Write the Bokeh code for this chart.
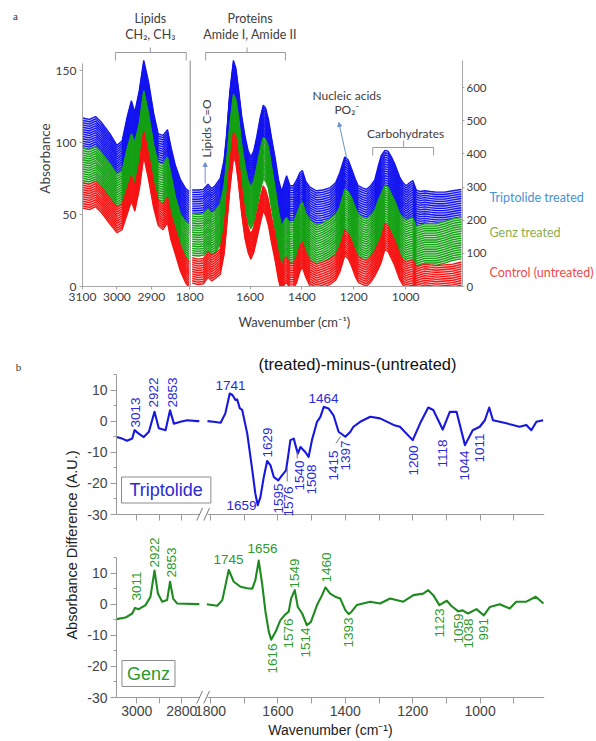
import numpy as np
from bokeh.plotting import figure
from bokeh.models import Range1d, LinearAxis, FixedTicker, Label, Arrow, NormalHead
from bokeh.layouts import column, row
from bokeh.embed import file_html
from bokeh.resources import INLINE

# ======================= DATA: panel a (stacked FTIR spectra) =======================
A_LEFT_WN = [3100, 3080, 3062, 3045, 3020, 3000, 2985, 2970, 2958, 2948, 2935, 2922,
             2908, 2893, 2880, 2866, 2853, 2843, 2830, 2815, 2800, 2790]
A_TRIPTOLIDE_LEFT = [117, 116, 118, 114, 106, 98, 101, 118, 129, 121, 136, 157,
                     142, 120, 106, 105, 109, 97, 84, 74, 68, 66]
A_GENZ_LEFT = [96, 95, 97, 93, 85, 78, 80, 96, 106, 100, 113, 136,
               120, 98, 86, 85, 90, 78, 62, 50, 45, 43]
A_CONTROL_LEFT = [72, 71, 73, 69, 61, 55, 57, 68, 77, 70, 85, 108,
                  92, 72, 60, 57, 62, 50, 40, 28, 20, 17]

A_RIGHT_WN = [1823, 1800, 1780, 1762, 1748, 1735, 1715, 1700, 1690, 1678, 1664, 1655, 1645,
              1632, 1619, 1607, 1597, 1586, 1574, 1560, 1549, 1540, 1529, 1516, 1504, 1490,
              1478, 1468, 1459, 1446, 1433, 1420, 1408, 1398, 1385, 1369, 1344, 1320, 1292,
              1270, 1254, 1235, 1222, 1209, 1195, 1183, 1167, 1151, 1135, 1119, 1105, 1094,
              1080, 1068, 1055, 1042, 1023, 1010, 998, 985, 972, 959, 945, 927, 905, 882,
              850, 818, 785]
A_TRIPTOLIDE_RIGHT = [67, 67, 67.5, 71, 68, 70, 75, 88, 106, 135, 157, 152, 138,
                      118, 104, 94, 90, 94, 104, 118, 126, 124, 116, 102, 90, 74,
                      66, 72, 77, 70, 70, 74, 79, 80.5, 73, 69, 66.5, 67, 68.5,
                      72, 79, 90, 88, 82, 75, 70, 68.5, 67.5, 70, 74, 84, 91,
                      94.5, 94, 90, 85, 76, 72, 70, 72, 73.5, 67, 66, 66.5, 66, 65.5,
                      65.5, 66.5, 67.5]
A_GENZ_RIGHT = [50.5, 50, 50.5, 54, 51, 52.5, 57.5, 70, 87.5, 112, 133.5, 130, 118.5,
                98, 83, 73, 69, 73, 83, 96, 103.5, 102, 97, 82, 69, 52,
                41.5, 46, 48, 44, 44.5, 50, 56, 58.5, 51, 46, 42.5, 44, 47,
                50, 55, 67.5, 66, 62, 55, 50.5, 48, 47, 49, 53, 60, 64.5,
                70, 69, 64, 59.5, 50.5, 47.5, 46, 47, 47.5, 41.5, 42.5, 43.5, 43.5, 43.5,
                45, 47, 48]
A_CONTROL_RIGHT = [20, 19, 19.5, 24, 21.5, 23, 26, 40, 60, 85, 107, 104, 90,
                   68, 50.5, 41, 36.5, 41, 50.5, 62, 70, 67, 60, 47, 36.5, 22,
                   13.5, 19, 20.5, 16, 16, 20.5, 28, 31, 24, 18, 15.5, 17, 19,
                   22, 27.5, 39, 37, 32, 25, 20.5, 19, 18, 20.5, 25, 30, 34.5,
                   43.5, 42, 37, 32, 22.5, 18.5, 17, 18, 18.5, 13.5, 14.5, 15.5, 15, 14.5,
                   15, 15.5, 17]
# offsets of the individual spectra stacked below each group's top spectrum
A_STACK_OFFSETS = [0.0, 1.6, 3.2, 4.8, 6.4, 8.0, 9.6, 11.2, 12.8, 14.4, 16.0, 17.6,
                   19.2, 20.8, 22.4, 24.0, 25.6, 27.2, 28.8]
A_CONTROL_STACK_OFFSETS = [0.0, 1.6, 3.2, 4.8, 6.4, 8.0, 9.6, 11.2, 12.8, 14.4, 16.0, 17.6]
A_X_TICKS_LEFT = [3100, 3000, 2900]
A_X_TICKS_RIGHT = [1600, 1400, 1200, 1000]
A_BREAK_TICK = "1800"
A_Y_TICKS = [0, 50, 100, 150]
A_Y2_TICKS = [0, 100, 200, 300, 400, 500, 600]
A_GROUPS = ["Triptolide treated", "Genz treated", "Control (untreated)"]

# ======================= DATA: panel b (difference spectra) =======================
B_TRIP_LEFT_WN = [3090, 3065, 3043, 3020, 3010, 2991, 2969, 2946, 2921, 2902, 2872, 2852,
                  2835, 2806, 2776, 2731, 2722]
B_TRIP_LEFT = [-5.1, -5.6, -6.3, -5.6, -2.9, -4.0, -5.1, -3.4, 3.0, -2.3, -2.9, 3.5,
               -0.8, -0.2, 0.3, 0.0, 0.0]
B_TRIP_RIGHT_WN = [1809, 1791, 1770, 1756, 1743, 1735, 1726, 1721, 1713, 1706, 1691, 1676,
                   1667, 1660, 1652, 1642, 1632, 1622, 1612, 1599, 1588, 1576, 1570, 1563,
                   1553, 1548, 1541, 1533, 1519, 1509, 1499, 1484, 1474, 1464, 1450, 1435,
                   1420, 1400, 1385, 1376, 1356, 1326, 1297, 1257, 1238, 1200, 1178, 1154,
                   1139, 1111, 1090, 1070, 1045, 1022, 1001, 986, 973, 962, 922, 883, 863,
                   848, 833, 813]
B_TRIP_RIGHT = [0.0, -0.2, -0.5, 2.5, 8.9, 8.4, 6.8, 7.0, 4.1, 3.6, -4.0, -15.8,
                -23.3, -27.0, -24.4, -18.0, -12.8, -14.2, -18.0, -19.0, -17.4, -15.8, -11.5, -6.1,
                -5.6, -7.7, -10.4, -8.3, -9.9, -11.5, -6.1, -0.2, 1.4, 4.6, 4.1, 1.9,
                -3.4, -5.0, -3.4, -1.8, -0.2, 1.4, 0.9, -1.2, -1.8, -6.1, -0.7, 4.4,
                3.6, -2.7, 3.0, 3.0, -7.7, -2.9, -1.8, 0.3, 4.4, 0.3, -0.7, -1.8, -1.2,
                -2.9, -0.2, 0.3]
B_GENZ_LEFT_WN = [3090, 3050, 3020, 3008, 2991, 2961, 2939, 2921, 2906, 2887, 2865, 2852,
                  2838, 2820, 2731, 2722]
B_GENZ_LEFT = [-4.8, -4.3, -3.0, -1.2, -1.6, -0.3, 2.4, 10.8, 3.4, 0.8, 1.3, 7.2,
               1.8, 0.2, 0.0, 0.0]
B_GENZ_RIGHT_WN = [1811, 1780, 1765, 1746, 1731, 1711, 1691, 1676, 1667, 1657, 1647, 1637,
                   1627, 1620, 1607, 1593, 1580, 1568, 1561, 1550, 1541, 1528, 1514, 1502,
                   1484, 1469, 1459, 1445, 1430, 1415, 1400, 1390, 1382, 1366, 1326, 1297,
                   1267, 1228, 1198, 1169, 1154, 1139, 1121, 1099, 1085, 1065, 1052, 1036,
                   1011, 989, 971, 942, 912, 893, 863, 835, 812]
B_GENZ_RIGHT = [0.0, -0.5, 1.3, 11.0, 7.2, 5.6, 5.1, 5.0, 7.7, 14.0, 6.7, -2.4,
                -8.9, -11.4, -8.9, -5.2, -3.5, -2.4, 1.8, 4.5, -0.9, -3.0, -6.8, -5.7,
                -0.3, 2.9, 5.4, 3.4, 2.4, 1.8, -1.9, -3.2, -2.5, -0.3, 0.8, 0.2,
                1.8, 0.8, 2.9, 3.4, 4.5, 2.9, -0.3, 1.1, -0.6, -2.3, -2.0, -3.0,
                -1.6, -3.6, -0.9, 0.0, -1.4, 0.8, 0.8, 2.4, 0.2]
B_TRIP_PEAKS = ["3013", "2922", "2853", "1741", "1629", "1659", "1595", "1576", "1540",
                "1508", "1464", "1415", "1397", "1200", "1118", "1044", "1011"]
B_GENZ_PEAKS = ["3011", "2922", "2853", "1745", "1656", "1616", "1576", "1549", "1514",
                "1460", "1393", "1123", "1059", "1038", "991"]
B_X_TICKS_LEFT = [3000, 2900, 2800]
B_X_TICKS_RIGHT = [1800, 1700, 1600, 1500, 1400, 1300, 1200, 1100, 1000, 900]
B_X_LABELLED = [3000, 2800, 1800, 1600, 1400, 1200, 1000]
B_Y_TICKS = [-30, -20, -10, 0, 10]
B_Y_MINOR = [-25, -15, -5, 5, 15]

# ======================= layout (page pixel geometry) =======================
# label placement in page pixels: (centre x, y, orientation) ; 'v' -> y is the text start (bottom)
TRIP_LABEL_POS = [(135, 427, "v"), (153, 407, "v"), (172, 407, "v"), (230, 385, "h"),
                  (266.7, 457, "v"), (241, 505, "h"), (278, 513, "v"), (288, 516, "v"),
                  (299, 490, "v"), (311, 494, "v"), (323, 398, "h"), (333, 480, "v"),
                  (345, 470, "v"), (413, 475, "v"), (442, 467, "v"), (464, 480, "v"),
                  (479, 462, "v")]
GENZ_LABEL_POS = [(136, 600, "v"), (154, 567, "v"), (171, 577, "v"), (228, 559, "h"),
                  (262, 548, "h"), (272, 673, "v"), (288, 648, "v"), (294, 588, "v"),
                  (305, 657, "v"), (326, 582, "v"), (348, 647, "v"), (439, 637, "v"),
                  (458, 643, "v"), (468, 648, "v"), (483, 640, "v")]


class Frame:
    def __init__(self, x0, w, y0, h, xr, lr, yr):
        self.x0, self.w, self.y0, self.h = x0, w, y0, h
        self.xr, self.lr, self.yr = xr, lr, yr

    def px(self, p):
        return self.xr[0] + (p - self.x0) / self.w * (self.xr[1] - self.xr[0])

    def pl(self, p):
        return self.lr[0] + (p - self.x0) / self.w * (self.lr[1] - self.lr[0])

    def py(self, p):
        return self.yr[1] - (p - self.y0) / self.h * (self.yr[1] - self.yr[0])

    def l2d(self, v):
        f = (v - self.lr[0]) / (self.lr[1] - self.lr[0])
        return round(self.xr[0] + f * (self.xr[1] - self.xr[0]), 4)


def make_fig(width, height, fr, left, right, top, bottom):
    p = figure(width=width, height=height, x_range=Range1d(*fr.xr), y_range=Range1d(*fr.yr),
               x_axis_type=None, y_axis_type=None, toolbar_location=None,
               output_backend="svg", min_border_left=left, min_border_right=right,
               min_border_top=top, min_border_bottom=bottom)
    p.extra_x_ranges = {"L": Range1d(*fr.lr)}
    p.outline_line_color = None
    return p


def page_fig(x0, x1, y0, y1, top=0, bottom=0):
    """blank figure whose frame coordinates are page pixels (for free text)"""
    p = figure(width=x1 - x0, height=y1 - y0 + top + bottom, x_range=Range1d(x0, x1),
               y_range=Range1d(y1, y0), x_axis_type=None, y_axis_type=None,
               toolbar_location=None, output_backend="svg", min_border_left=0,
               min_border_right=0, min_border_top=top, min_border_bottom=bottom)
    p.outline_line_color = None
    return p


def text(p, s, x, y, rng=None, size="12px", font="Lato", color="#404040", angle=0.0,
         align="center", baseline="middle", **kw):
    args = dict(x=x, y=y, text=s, text_font=font, text_font_size=size, text_color=color,
                angle=angle, text_align=align, text_baseline=baseline, **kw)
    if rng:
        args["x_range_name"] = rng
    p.add_layout(Label(**args))


# ----------------------------------- panel a -----------------------------------
FA = Frame(82, 381, 0, 286, (2246.0, 780.8), (3100.0, 1995.65), (0.0, 286 / 1.44))
pa = make_fig(437, 312, FA, 30, 26, 0, 26)          # page x 52 .. 489
pa.extra_y_ranges = {"R": Range1d(0, 286 / 1.44 * 4.342)}


def band(p, wn, top, offsets, color, tint, rng=None):
    top = np.asarray(top, dtype=float)
    kw = {"x_range_name": rng} if rng else {}
    p.varea(x=wn, y1=top - max(offsets), y2=top, fill_color=tint, fill_alpha=1.0, **kw)
    p.multi_line(xs=[list(wn)] * len(offsets), ys=[list(top - o) for o in offsets],
                 line_color=color, line_width=1.35, **kw)


BLUE, GREEN, RED = "#1414f0", "#14a014", "#f51414"
TBLUE, TGREEN, TRED = "#c0c0fa", "#bce5bc", "#fbc0c0"
for wn, tops, rng in [(A_LEFT_WN, (A_TRIPTOLIDE_LEFT, A_GENZ_LEFT, A_CONTROL_LEFT), "L"),
                      (A_RIGHT_WN, (A_TRIPTOLIDE_RIGHT, A_GENZ_RIGHT, A_CONTROL_RIGHT), None)]:
    assert len(wn) == len(tops[0]) == len(tops[1]) == len(tops[2])
    band(pa, wn, tops[0], A_STACK_OFFSETS, BLUE, TBLUE, rng)
    band(pa, wn, tops[1], A_STACK_OFFSETS, GREEN, TGREEN, rng)
    band(pa, wn, tops[2], A_CONTROL_STACK_OFFSETS, RED, TRED, rng)

AX = "#a6a6a6"
TXT = "#404040"
ax_l = LinearAxis(ticker=FixedTicker(ticks=A_Y_TICKS), bounds=(0, 155))
ax_r = LinearAxis(y_range_name="R", ticker=FixedTicker(ticks=A_Y2_TICKS), bounds=(0, 680))
junction = FA.l2d(FA.pl(189.5))
bt = [FA.l2d(v) for v in A_X_TICKS_LEFT] + [junction] + list(A_X_TICKS_RIGHT)
bl = {FA.l2d(v): str(v) for v in A_X_TICKS_LEFT}
bl[junction] = A_BREAK_TICK
ax_b = LinearAxis(ticker=FixedTicker(ticks=bt), major_label_overrides=bl)
for ax in (ax_l, ax_r, ax_b):
    ax.axis_line_color = AX
    ax.major_tick_line_color = AX
    ax.major_tick_out = 3
    ax.major_tick_in = 0
    ax.minor_tick_line_color = None
    ax.major_label_text_font = "Lato"
    ax.major_label_text_font_size = "12px"
    ax.major_label_text_color = TXT
    ax.major_label_standoff = 3
ax_r.major_tick_out = 2
ax_r.major_label_standoff = 2
ax_r.major_label_text_font_size = "11.5px"
pa.add_layout(ax_l, "left")
pa.add_layout(ax_r, "right")
pa.add_layout(ax_b, "below")

# divider between the two wavenumber windows
pa.line(x=[FA.pl(190), FA.pl(190)], y=[0, FA.py(60)], x_range_name="L", line_color="#9a9a9a",
        line_width=1.2)


def bracket(p, fr, xa, xb, xm, ytop, yend, ytick, rng=None):
    f = fr.pl if rng else fr.px
    kw = {"x_range_name": rng} if rng else {}
    p.multi_line(xs=[[f(xa), f(xa), f(xb), f(xb)], [f(xm), f(xm)]],
                 ys=[[fr.py(yend), fr.py(ytop), fr.py(ytop), fr.py(yend)],
                     [fr.py(ytop), fr.py(ytick)]], line_color="#9a9a9a", line_width=1, **kw)


bracket(pa, FA, 115, 186, 150, 52, 60, 47, "L")
bracket(pa, FA, 205.5, 285.5, 247, 52, 60, 47)
bracket(pa, FA, 373, 434, 404, 147, 155, 140)

text(pa, "Lipids", FA.pl(150), FA.py(18), "L", size="12.5px")
text(pa, "CH\u2082, CH\u2083", FA.pl(150), FA.py(34), "L", size="12.5px")
text(pa, "Proteins", FA.px(250), FA.py(18), size="12.5px")
text(pa, "Amide I, Amide II", FA.px(250), FA.py(34), size="12.5px")
text(pa, "Lipids C=O", FA.px(206), FA.py(157), size="12px", angle=np.pi / 2, align="left")
text(pa, "Nucleic acids", FA.px(347), FA.py(95), size="12px")
text(pa, "PO\u2082\u207b", FA.px(347), FA.py(109), size="12px")
text(pa, "Carbohydrates", FA.px(406), FA.py(133), size="12px")

ARROWC = "#6f93c8"
pa.add_layout(Arrow(x_start=FA.px(205), y_start=FA.py(183), x_end=FA.px(205), y_end=FA.py(162),
                    line_color=ARROWC, line_width=1,
                    end=NormalHead(size=4, fill_color=ARROWC, line_color=ARROWC)))
pa.add_layout(Arrow(x_start=FA.px(347), y_start=FA.py(158), x_end=FA.px(339), y_end=FA.py(122),
                    line_color=ARROWC, line_width=1,
                    end=NormalHead(size=4, fill_color=ARROWC, line_color=ARROWC)))

aL = page_fig(0, 52, 0, 286, 0, 26)
text(aL, "a", 15, 15, size="11px", font="Liberation Serif", color="#333333")
text(aL, "Absorbance", 44, 158, size="13.5px", angle=np.pi / 2)
aR = page_fig(489, 596, 0, 286, 0, 26)
for s, yy, col in zip(A_GROUPS, (197, 232, 272), ("#4a90d6", "#8aac4e", "#f04a4a")):
    text(aR, s, 489, yy, size="12.5px", color=col, align="left")

mid = page_fig(0, 596, 312, 374)
text(mid, "Wavenumber (cm\u207b\u00b9)", 294, 321, size="13px")
text(mid, "b", 18, 366, size="11px", font="Liberation Serif", color="#333333")
text(mid, "(treated)-minus-(untreated)", 357, 363, size="16.5px", font="Liberation Sans",
     color="#111111")

# ----------------------------------- panel b -----------------------------------
K = 140 / 45.0
FB1 = Frame(116, 428, 374, 146, (2079.0, 809.0), (3090.0, 1187.8),
            (-30.0 - 6 / K, 15.0))
FB2 = Frame(116, 428, 527, 176, (2079.0, 809.0), (3090.0, 1187.8),
            (-30.0 - 6 / K, -30.0 - 6 / K + 176 / K))
pb1 = make_fig(516, 153, FB1, 36, 52, 0, 7)
pb2 = make_fig(516, 214, FB2, 36, 52, 0, 38)

BAX = "#9a9a9a"
BTXT = "#444444"
BFONT = "Liberation Sans"


def b_axes(p, fr, labelled):
    ay = LinearAxis(ticker=FixedTicker(ticks=B_Y_TICKS, minor_ticks=B_Y_MINOR), bounds=(-30, 15),
                    major_label_overrides={v: str(v) for v in B_Y_TICKS})
    ay.major_tick_out = 6
    ay.major_tick_in = 0
    ay.minor_tick_out = 3
    ay.minor_tick_in = 0
    ay.minor_tick_line_color = BAX
    ay.axis_line_color = BAX
    ticks = [fr.l2d(v) for v in B_X_TICKS_LEFT] + list(B_X_TICKS_RIGHT)
    raw = list(B_X_TICKS_LEFT) + list(B_X_TICKS_RIGHT)
    over = {t: (str(r) if (labelled and r in B_X_LABELLED) else "") for t, r in zip(ticks, raw)}
    ax = LinearAxis(ticker=FixedTicker(ticks=ticks), major_label_overrides=over)
    ax.major_tick_out = 0
    ax.major_tick_in = 6
    ax.minor_tick_line_color = None
    ax.axis_line_color = None
    for a in (ay, ax):
        a.major_tick_line_color = BAX
        a.major_label_text_font = BFONT
        a.major_label_text_color = BTXT
        a.major_label_text_font_size = "14px"
        a.major_label_standoff = 3
    if labelled:
        ax.major_label_standoff = 2
        ax.axis_label = "Wavenumber (cm\u207b\u00b9)"
        ax.axis_label_text_font = BFONT
        ax.axis_label_text_font_size = "14px"
        ax.axis_label_text_font_style = "normal"
        ax.axis_label_text_color = "#222222"
        ax.axis_label_standoff = 3
    else:
        ax.major_label_text_font_size = "1px"
        ax.major_label_standoff = 0
    p.add_layout(ay, "left")
    p.add_layout(ax, "below")
    # the broken x axis line with its break marks
    p.line(x=[fr.lr[0], fr.pl(199.5)], y=[-30, -30], x_range_name="L", line_color=BAX,
           line_width=1)
    p.line(x=[fr.px(207), fr.xr[1]], y=[-30, -30], line_color=BAX, line_width=1)
    ybot, ytop = -30 - 6.5 / K, -30 + 6.5 / K
    p.multi_line(xs=[[fr.px(196), fr.px(202)], [fr.px(203), fr.px(209)]],
                 ys=[[ybot, ytop], [ybot, ytop]], line_color="#7a7a7a", line_width=1)


b_axes(pb1, FB1, False)
b_axes(pb2, FB2, True)

TRIPC, TRIPT = "#1717dd", "#2a2ad8"
GENZC, GENZT = "#1f8a1f", "#2c9a2c"
pb1.line(B_TRIP_LEFT_WN, B_TRIP_LEFT, x_range_name="L", line_color=TRIPC, line_width=2.1,
         line_join="round")
pb1.line(B_TRIP_RIGHT_WN, B_TRIP_RIGHT, line_color=TRIPC, line_width=2.1, line_join="round")
pb2.line(B_GENZ_LEFT_WN, B_GENZ_LEFT, x_range_name="L", line_color=GENZC, line_width=2.1,
         line_join="round")
pb2.line(B_GENZ_RIGHT_WN, B_GENZ_RIGHT, line_color=GENZC, line_width=2.1, line_join="round")


def peak_labels(p, fr, names, pos, color):
    for s, (cx, yy, o) in zip(names, pos):
        rng = "L" if cx < 200 else None
        x = fr.pl(cx) if rng else fr.px(cx)
        if o == "v":
            text(p, s, x, fr.py(yy), rng, size="13.5px", font=BFONT, color=color,
                 angle=np.pi / 2, align="left")
        else:
            text(p, s, x, fr.py(yy), rng, size="13.5px", font=BFONT, color=color)


peak_labels(pb1, FB1, B_TRIP_PEAKS, TRIP_LABEL_POS, TRIPT)
peak_labels(pb2, FB2, B_GENZ_PEAKS, GENZ_LABEL_POS, GENZT)

# leader lines
for (x1, y1, x2, y2) in [(286.7, 467, 286.7, 481), (296.7, 451, 296.7, 458), (340, 436, 335.5, 443)]:
    pb1.line(x=[FB1.px(x1), FB1.px(x2)], y=[FB1.py(y1), FB1.py(y2)], line_color="#777777",
             line_width=1)

text(pb1, "Triptolide", FB1.pl(165.7), FB1.py(489.5), "L", size="18px", font=BFONT,
     color=TRIPT, border_line_color="#8c8c8c", padding=(8, 3))
text(pb2, "Genz", FB2.pl(148), FB2.py(673), "L", size="18px", font=BFONT,
     color=GENZT, border_line_color="#8c8c8c", padding=(5, 3))

bL = page_fig(0, 80, 374, 741)
text(bL, "Absorbance Difference (A.U.)", 71, 544.5, size="14.5px", font=BFONT,
     color="#222222", angle=np.pi / 2)

layout = column(row(aL, pa, aR, spacing=0), mid,
                row(bL, column(pb1, pb2, spacing=0), spacing=0), spacing=0)
open("out.html", "w").write(file_html(layout, INLINE))
